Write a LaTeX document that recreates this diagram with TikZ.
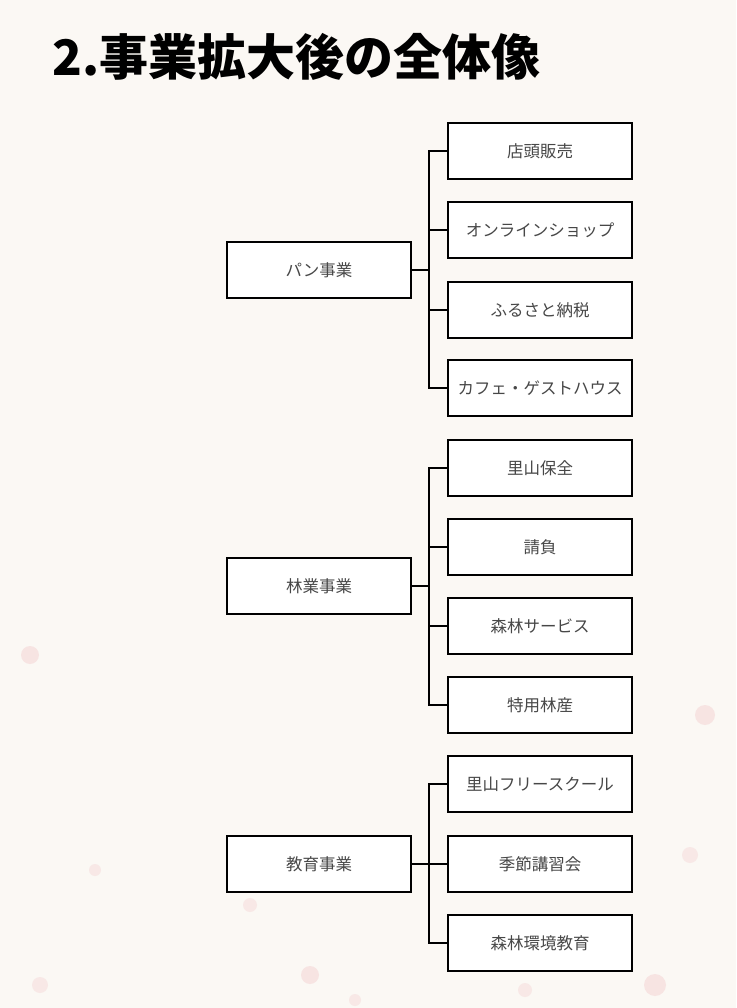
\documentclass[tikz,border=0pt]{standalone}
\usepackage{fontspec}
\newfontfamily\jp{Noto Sans CJK JP}
\usepackage{tikz}

\definecolor{paper}{HTML}{FBF8F4}
\definecolor{petal}{HTML}{F4D2D2}

\tikzset{
  box/.style={draw, line width=1.4pt, fill=white, minimum width=184pt, minimum height=56pt,
    font=\jp\fontsize{16.5}{19}\selectfont, text=black!72},
  branch/.style={line width=1.4pt}
}

\begin{document}
\begin{tikzpicture}[x=1pt, y=-1pt]
    % Background
    \fill[paper] (0,0) rectangle (736,1008);
    \useasboundingbox (0,0) rectangle (736,1008);
    \fill[petal, opacity=0.5] (30,655) circle (9);
    \fill[petal, opacity=0.4] (250,905) circle (7);
    \fill[petal, opacity=0.5] (705,715) circle (10);
    \fill[petal, opacity=0.4] (690,855) circle (8);
    \fill[petal, opacity=0.5] (310,975) circle (9);
    \fill[petal, opacity=0.5] (655,985) circle (11);
    \fill[petal, opacity=0.4] (40,985) circle (8);
    \fill[petal, opacity=0.4] (525,990) circle (7);
    \fill[petal, opacity=0.4] (95,870) circle (6);
    \fill[petal, opacity=0.4] (355,1000) circle (6);

    % Title
    \node (title) at (52,76) [anchor=base west, inner sep=0pt,
      font=\jp\bfseries\fontsize{49}{53}\selectfont] {2.事業拡大後の全体像};

    % Bread business
    \node (pan) at (319,270) [box] {パン事業};
    \node (pan1) at (540,151) [box] {店頭販売};
    \node (pan2) at (540,230) [box] {オンラインショップ};
    \node (pan3) at (540,310) [box] {ふるさと納税};
    \node (pan4) at (540,388) [box] {カフェ・ゲストハウス};
    \coordinate (panT) at (429,270);
    \draw[branch] (pan) -- (panT);
    \draw[branch] (pan1.west) -| (panT);
    \draw[branch] (pan2.west) -| (panT);
    \draw[branch] (pan3.west) -| (panT);
    \draw[branch] (pan4.west) -| (panT);

    % Forestry business
    \node (rin) at (319,586) [box] {林業事業};
    \node (rin1) at (540,468) [box] {里山保全};
    \node (rin2) at (540,547) [box] {請負};
    \node (rin3) at (540,626) [box] {森林サービス};
    \node (rin4) at (540,705) [box] {特用林産};
    \coordinate (rinT) at (429,586);
    \draw[branch] (rin) -- (rinT);
    \draw[branch] (rin1.west) -| (rinT);
    \draw[branch] (rin2.west) -| (rinT);
    \draw[branch] (rin3.west) -| (rinT);
    \draw[branch] (rin4.west) -| (rinT);

    % Education business
    \node (edu) at (319,864) [box] {教育事業};
    \node (edu1) at (540,784) [box] {里山フリースクール};
    \node (edu2) at (540,864) [box] {季節講習会};
    \node (edu3) at (540,943) [box] {森林環境教育};
    \coordinate (eduT) at (429,864);
    \draw[branch] (edu) -- (eduT);
    \draw[branch] (edu1.west) -| (eduT);
    \draw[branch] (edu2) -- (eduT);
    \draw[branch] (edu3.west) -| (eduT);

\end{tikzpicture}
\end{document}
